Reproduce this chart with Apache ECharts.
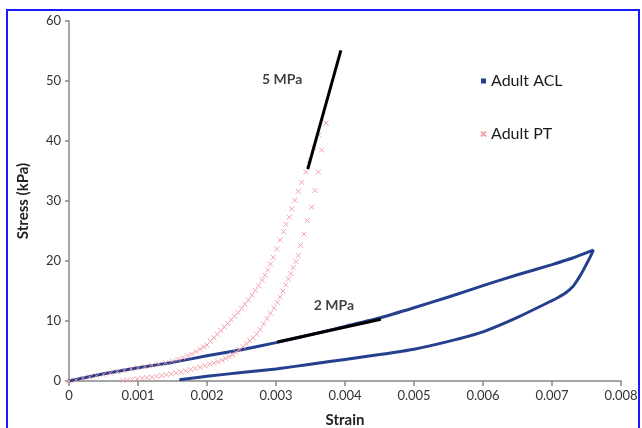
<!DOCTYPE html>
<html>
<head>
<meta charset="utf-8">
<script src="https://cdn.jsdelivr.net/npm/echarts@6/dist/echarts.min.js"></script>
<style>
html,body{margin:0;padding:0;background:#fff;}
#chart{width:642px;height:428px;}
</style>
</head>
<body>
<div id="chart"></div>
<script>
// ---- data ----
var xTicks = ['0','0.001','0.002','0.003','0.004','0.005','0.006','0.007','0.008'];
var yTicks = ['0','10','20','30','40','50','60'];

// Adult ACL: loading branch then unloading branch  [strain, stress kPa]
var aclLoading = [[0,0],[0.0005,1.2],[0.001,2.2],[0.0015,3.1],[0.002,4.2],[0.0025,5.2],[0.003,6.4],
  [0.0035,7.7],[0.004,9.1],[0.0045,10.5],[0.005,12.2],[0.0055,14.0],[0.006,15.9],[0.0065,17.7],
  [0.007,19.4],[0.0073,20.5],[0.0076,21.8]];
var aclUnloading = [[0.0076,21.8],[0.00755,20.6],[0.0075,19.5],[0.00745,18.4],[0.0074,17.4],
  [0.00735,16.5],[0.0073,15.7],[0.0072,14.7],[0.0071,14.0],[0.007,13.4],
  [0.0065,10.6],[0.006,8.2],[0.0055,6.6],[0.005,5.3],[0.0045,4.4],[0.004,3.6],[0.0035,2.8],
  [0.003,2.0],[0.0025,1.4],[0.002,0.8],[0.0016,0.2]];

// Adult PT markers
var ptLoading = [[0,0],[0.0001,0.2],[0.0002,0.45],[0.0003,0.65],[0.0004,0.9],[0.0005,1.1],[0.0006,1.3],
  [0.0007,1.55],[0.0008,1.75],[0.0009,2.0],[0.001,2.2],[0.0011,2.4],[0.0012,2.65],[0.0013,2.85],
  [0.0014,3.05],[0.0015,3.3],[0.00158,3.6],[0.00165,3.9],[0.00172,4.2],[0.00178,4.5],[0.00184,4.9],
  [0.0019,5.3],[0.00195,5.65],[0.002,6.0],[0.00205,6.6],[0.0021,7.2],[0.00215,7.8],[0.0022,8.4],
  [0.00225,9.0],[0.0023,9.6],[0.00235,10.2],[0.0024,10.8],[0.00245,11.4],[0.0025,12.1],[0.00255,12.8],
  [0.0026,13.5],[0.00265,14.3],[0.0027,15.1],[0.00275,15.9],[0.0028,16.8],[0.00284,17.6],[0.00288,18.5],
  [0.00292,19.5],[0.00296,20.6],[0.00301,22.0],[0.00306,23.5],[0.00311,24.9],[0.003145,26.1],
  [0.003193,27.3],[0.003228,28.7],[0.003275,30.1],[0.003323,31.6],[0.003372,33.1],[0.003435,34.8],
  [0.00349,36.8],[0.00355,38.9],[0.00362,41.0]];
var ptUnloading = [[0.003725,43.0],[0.003662,38.5],[0.003613,34.8],[0.003565,31.75],[0.003517,28.97],
  [0.003454,26.75],[0.003406,24.5],[0.003358,22.6],[0.003323,20.9],[0.00329,19.9],[0.00325,18.9],
  [0.003215,17.9],[0.00318,17.0],[0.00314,16.0],[0.0031,15.0],[0.00306,14.0],[0.00302,13.1],
  [0.00297,12.2],[0.00292,11.3],[0.00287,10.4],[0.00282,9.5],[0.00277,8.6],[0.00272,7.8],[0.00267,7.2],
  [0.00262,6.7],[0.00257,6.2],[0.00252,5.7],[0.00247,5.2],[0.00242,4.8],[0.00237,4.4],[0.00232,4.05],
  [0.00227,3.75],[0.00222,3.45],[0.00216,3.2],[0.0021,3.0],[0.00204,2.8],[0.00197,2.55],[0.0019,2.3],
  [0.00183,2.1],[0.00176,1.9],[0.00169,1.7],[0.00162,1.5],[0.00155,1.35],[0.00148,1.2],[0.00141,1.05],
  [0.00134,0.9],[0.00127,0.8],[0.0012,0.65],[0.00113,0.55],[0.00106,0.45],[0.00099,0.35],[0.00092,0.25],
  [0.00085,0.15],[0.00078,0.05]];

// modulus annotations
var slope5Line = [[0.00346,35.3],[0.00394,55.1]];
var slope2Line = [[0.00302,6.5],[0.00452,10.3]];
var slopeLabels = [{text:'5 MPa', at:[0.00309,50.3]},{text:'2 MPa', at:[0.00384,12.6]}];
var seriesNames = ['Adult ACL','Adult PT'];

// ---- chart ----
var FONT = 'Lato, "Open Sans", sans-serif';
var chart = echarts.init(document.getElementById('chart'), null, {renderer:'canvas'});
var xPath = 'path://M0,0L10,10M10,0L0,10';
var option = {
  animation:false,
  backgroundColor:'#ffffff',
  textStyle:{fontFamily:FONT},
  grid:{left:69, right:21, top:21, bottom:47, outerBoundsMode:'none', containLabel:false},
  legend:{
    orient:'vertical', left:475, top:68, itemGap:37, itemWidth:5, itemHeight:5,
    textStyle:{fontSize:16, color:'#1a1a1a', fontFamily:FONT, lineHeight:16},
    data:[{name:seriesNames[0], icon:'rect'},{name:seriesNames[1], icon:xPath}]
  },
  xAxis:{
    type:'value', min:0, max:0.008, interval:0.001,
    name:'Strain', nameLocation:'middle', nameGap:32,
    nameTextStyle:{fontSize:15, fontWeight:'bold', color:'#222', fontFamily:FONT},
    axisLine:{lineStyle:{color:'#888888', width:1.5}},
    axisTick:{show:true, length:5, lineStyle:{color:'#888888', width:1.5}},
    splitLine:{show:false},
    axisLabel:{color:'#333', fontSize:13, margin:8, fontFamily:FONT,
      formatter:function(v){return xTicks[Math.round(v/0.001)];}}
  },
  yAxis:{
    type:'value', min:0, max:60, interval:10,
    name:'Stress (kPa)', nameLocation:'middle', nameGap:38,
    nameTextStyle:{fontSize:15, fontWeight:'bold', color:'#222', fontFamily:FONT},
    axisLine:{show:true, lineStyle:{color:'#888888', width:1.5}},
    axisTick:{show:true, length:4, lineStyle:{color:'#888888', width:1.5}},
    splitLine:{show:false},
    axisLabel:{color:'#333', fontSize:13, margin:8, fontFamily:FONT,
      formatter:function(v){return yTicks[Math.round(v/10)];}}
  },
  graphic:[{type:'rect', shape:{x:7,y:10,width:632,height:430}, style:{fill:'none', stroke:'#1a1aff', lineWidth:2}, silent:true, z:100}],
  series:[
    {name:seriesNames[0], type:'line', data:aclLoading.concat(aclUnloading.slice(1)),
      smooth:0.15, showSymbol:false, symbol:'rect',
      lineStyle:{color:'#233f8e', width:3}, itemStyle:{color:'#233f8e'}, z:2},
    {name:seriesNames[1], type:'scatter', data:ptLoading.concat(ptUnloading),
      symbol:xPath, symbolSize:5,
      itemStyle:{color:'rgba(0,0,0,0)', borderColor:'#f19aa6', borderWidth:1, opacity:0.9}, z:3},
    {name:'slope5', type:'line', data:slope5Line, showSymbol:false, lineStyle:{color:'#000', width:3}, z:4},
    {name:'slope2', type:'line', data:slope2Line, showSymbol:false, lineStyle:{color:'#000', width:3}, z:4},
    {name:'labels', type:'scatter', symbolSize:0, z:5,
      data:slopeLabels.map(function(d){return {value:d.at, name:d.text};}),
      label:{show:true, position:'inside', formatter:function(p){return '{b|' + p.name + '}';},
        rich:{b:{fontSize:14, fontWeight:'bold', color:'#111', fontFamily:FONT}}}}
  ]
};
chart.setOption(option);
</script>
</body>
</html>
